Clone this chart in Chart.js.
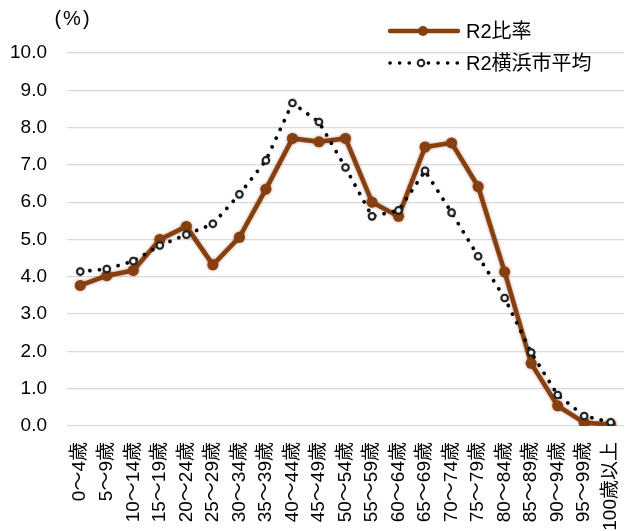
<!DOCTYPE html>
<html><head><meta charset="utf-8">
<script src="https://cdn.jsdelivr.net/npm/chart.js@4/dist/chart.umd.min.js"></script>
<style>html,body{margin:0;padding:0;background:#fff;overflow:hidden;}#wrap{width:630px;height:531px;position:relative;}</style>
</head><body><div id="wrap"><canvas id="c"></canvas></div>
<script>
const categories = ["0～4歳","5～9歳","10～14歳","15～19歳","20～24歳","25～29歳","30～34歳","35～39歳","40～44歳","45～49歳","50～54歳","55～59歳","60～64歳","65～69歳","70～74歳","75～79歳","80～84歳","85～89歳","90～94歳","95～99歳","100歳以上"];
const r2Ratio = [3.77,4.03,4.17,5.0,5.35,4.32,5.06,6.35,7.71,7.62,7.71,6.0,5.62,7.48,7.59,6.42,4.13,1.68,0.54,0.09,0.04];
const r2Yokohama = [4.14,4.21,4.42,4.84,5.13,5.42,6.21,7.12,8.66,8.15,6.93,5.62,5.78,6.84,5.72,4.55,3.43,1.97,0.83,0.27,0.1];
const yTicks = [0,1,2,3,4,5,6,7,8,9,10];
const seriesNames = ["R2比率","R2横浜市平均"];
const unitLabel = "(%)";

const BROWN = "#863F10";
const FONT = "'Liberation Sans','Noto Sans CJK JP',sans-serif";

const shadowPlugin = {
  id: 'shadow',
  beforeDatasetDraw(chart, args) {
    const ctx = chart.ctx; ctx.save();
    if (args.index === 0) { ctx.shadowColor = 'rgba(134,63,16,0.6)'; ctx.shadowBlur = 3; }
    else { ctx.shadowColor = 'rgba(0,0,0,0.35)'; ctx.shadowBlur = 1.5; }
  },
  afterDatasetDraw(chart) { chart.ctx.restore(); }
};

const legendPlugin = {
  id: 'customLegend',
  afterDraw(chart) {
    const ctx = chart.ctx; ctx.save();
    ctx.font = "20px " + FONT; ctx.fillStyle = "#000"; ctx.textBaseline = "middle";
    ctx.textAlign = "center";
    try { ctx.letterSpacing = "2px"; } catch (e) {}
    ctx.fillText(unitLabel, 73, 19);
    try { ctx.letterSpacing = "0px"; } catch (e) {}
    ctx.textAlign = "left";
    let y = 31;
    ctx.strokeStyle = BROWN; ctx.lineWidth = 4.5; ctx.lineCap = "round";
    ctx.beginPath(); ctx.moveTo(390, y); ctx.lineTo(458, y); ctx.stroke();
    ctx.fillStyle = BROWN; ctx.beginPath(); ctx.arc(423, y, 5, 0, Math.PI*2); ctx.fill();
    ctx.fillStyle = "#000"; ctx.fillText(seriesNames[0], 466, y + 1);
    y = 63;
    ctx.setLineDash([0.1, 9.5]); ctx.strokeStyle = "#000"; ctx.lineWidth = 3.6; ctx.lineCap = "round";
    ctx.beginPath(); ctx.moveTo(390, y); ctx.lineTo(460, y); ctx.stroke();
    ctx.setLineDash([]);
    ctx.fillStyle = "#fff"; ctx.strokeStyle = "#222"; ctx.lineWidth = 2;
    ctx.beginPath(); ctx.arc(421, y, 3.3, 0, Math.PI*2); ctx.fill(); ctx.stroke();
    ctx.fillStyle = "#000"; ctx.fillText(seriesNames[1], 466, y + 1);
    ctx.restore();
  }
};

new Chart(document.getElementById('c'), {
  type: 'line',
  data: {
    labels: categories,
    datasets: [
      { label: seriesNames[0], data: r2Ratio, borderColor: BROWN, backgroundColor: BROWN,
        borderWidth: 4.5, pointRadius: 5.5, pointHoverRadius: 5.5, pointBackgroundColor: BROWN, pointBorderColor: BROWN, pointBorderWidth: 0, tension: 0, order: 1 },
      { label: seriesNames[1], data: r2Yokohama, borderColor: "#000", backgroundColor: "#fff",
        borderWidth: 3.6, borderDash: [0.1, 9.5], borderCapStyle: 'round',
        pointRadius: 3.3, pointBackgroundColor: "#fff", pointBorderColor: "#222", pointBorderWidth: 2, tension: 0, order: 0 }
    ]
  },
  options: {
    responsive: true, maintainAspectRatio: false, animation: false,
    layout: { padding: { top: 53, left: 0, right: 0, bottom: 0 } },
    plugins: { legend: { display: false }, tooltip: { enabled: false } },
    scales: {
      x: {
        offset: true,
        grid: { display: false, drawTicks: false },
        border: { display: false },
        ticks: { autoSkip: false, maxRotation: 90, minRotation: 90, padding: 16, color: "#000", font: { size: 19, family: FONT } },
        afterFit(s) { s.height = 105; s.paddingLeft = 0; s.paddingRight = 0; }
      },
      y: {
        min: 0, max: 10,
        afterBuildTicks(s) { s.ticks = yTicks.map(v => ({ value: v })); },
        grid: { color: "#d9d9d9", lineWidth: 1.3, drawTicks: false },
        border: { display: false },
        ticks: { padding: 20, color: "#000", font: { size: 19, family: FONT }, callback: v => Number(v).toFixed(1) },
        afterFit(s) { s.width = 67; s.paddingTop = 0; s.paddingBottom = 0; }
      }
    }
  },
  plugins: [shadowPlugin, legendPlugin]
});
</script></body></html>
